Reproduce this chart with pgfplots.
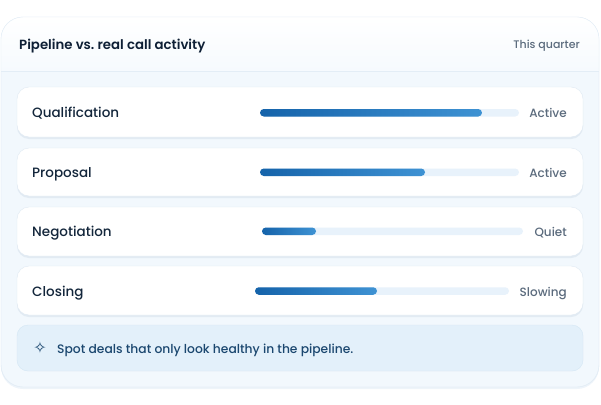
\documentclass[border=0pt]{standalone}
\usepackage{pgfplots}
\pgfplotsset{compat=1.18}
\usepackage{fontspec}
\setmainfont{Poppins}
\newfontfamily\pmed{Poppins Medium}
\newfontfamily\psemi{Poppins SemiBold}
\newfontfamily\dejavu{DejaVu Sans}
\definecolor{cardbg}{HTML}{F2F8FD}
\definecolor{cardborder}{HTML}{E3EDF6}
\definecolor{rowborder}{HTML}{DFE9F3}
\definecolor{rowshadow}{HTML}{E2EBF3}
\definecolor{titlec}{HTML}{0E1F35}
\definecolor{grayc}{HTML}{5B6B7D}
\definecolor{labelc}{HTML}{13263B}
\definecolor{trackc}{HTML}{E8F2FB}
\definecolor{barL}{HTML}{1563AA}
\definecolor{barR}{HTML}{3E92D3}
\definecolor{footbg}{HTML}{E3F0FA}
\definecolor{footborder}{HTML}{D4E6F4}
\definecolor{foottext}{HTML}{1B476F}
\tikzset{rowcard/.style={draw=rowborder, fill=white, rounded corners=12pt},
  rowshad/.style={fill=rowshadow, rounded corners=12pt},
  lab/.style={anchor=base west, text=labelc, font=\pmed\fontsize{13.5}{15}\selectfont, inner sep=0pt},
  stat/.style={anchor=base east, text=grayc, font=\pmed\fontsize{12}{14}\selectfont, inner sep=0pt}}
\begin{document}
\begin{tikzpicture}
\begin{axis}[width=601pt,height=404pt,scale only axis,
  xmin=0,xmax=601,ymin=0,ymax=404,y dir=reverse,
  hide axis,clip=false]
\path (0,0) rectangle (601,404);
% outer card
\fill[cardborder!60, rounded corners=22pt] (1,18) rectangle (599,389);
\draw[fill=cardbg, draw=cardborder, rounded corners=22pt] (1,17) rectangle (599,387);
\begin{scope}
\clip[rounded corners=22pt] (1,17) rectangle (599,387);
\shade[top color=white, bottom color=cardbg!70!white] (1,17) rectangle (599,71);
\end{scope}
\draw[cardborder, line width=1pt] (1,71) -- (599,71);
\draw[cardborder, rounded corners=22pt] (1,17) rectangle (599,387);
\node[anchor=base west, text=titlec, font=\psemi\fontsize{13.3}{16}\selectfont, inner sep=0pt] at (19,49.3) {Pipeline vs.\ real call activity};
\node[anchor=base east, text=grayc, font=\pmed\fontsize{11}{14}\selectfont, inner sep=0pt] at (580,48.5) {This quarter};
% row cards
\fill[rowshad] (17,89) rectangle (583,139);
\draw[rowcard] (17,87) rectangle (583,137);
\fill[rowshad] (17,150) rectangle (583,198);
\draw[rowcard] (17,148) rectangle (583,196);
\fill[rowshad] (17,209) rectangle (583,258);
\draw[rowcard] (17,207) rectangle (583,256);
\fill[rowshad] (17,268) rectangle (583,317);
\draw[rowcard] (17,266) rectangle (583,315);
\node[lab] at (32,117.3) {Qualification};
\node[lab] at (32,177.3) {Proposal};
\node[lab] at (32,236.5) {Negotiation};
\node[lab] at (32,296) {Closing};
\node[stat] at (567,117.3) {Active};
\node[stat] at (567,177) {Active};
\node[stat] at (567,236.3) {Quiet};
\node[stat] at (567,296) {Slowing};
% tracks
\addplot[draw=none, fill=trackc, rounded corners=3.75pt] coordinates {(260,109) (519,109) (519,116.5) (260,116.5)} -- cycle;
\addplot[draw=none, fill=trackc, rounded corners=3.75pt] coordinates {(260,168.5) (519,168.5) (519,176) (260,176)} -- cycle;
\addplot[draw=none, fill=trackc, rounded corners=3.75pt] coordinates {(262,227.5) (523,227.5) (523,235) (262,235)} -- cycle;
\addplot[draw=none, fill=trackc, rounded corners=3.75pt] coordinates {(255,287.25) (509,287.25) (509,294.75) (255,294.75)} -- cycle;
% bars
\addplot[draw=none, left color=barL, right color=barR, rounded corners=3.75pt] coordinates {(260,109) (482,109) (482,116.5) (260,116.5)} -- cycle;
\addplot[draw=none, left color=barL, right color=barR, rounded corners=3.75pt] coordinates {(260,168.5) (425,168.5) (425,176) (260,176)} -- cycle;
\addplot[draw=none, left color=barL, right color=barR, rounded corners=3.75pt] coordinates {(262,227.5) (316,227.5) (316,235) (262,235)} -- cycle;
\addplot[draw=none, left color=barL, right color=barR, rounded corners=3.75pt] coordinates {(255,287.25) (377,287.25) (377,294.75) (255,294.75)} -- cycle;
% footer
\draw[fill=footbg, draw=footborder, rounded corners=11pt] (17,325) rectangle (583,371);
\node[text=foottext, font=\dejavu\bfseries\fontsize{16}{18}\selectfont, inner sep=0pt] at (40,348) {✧};
\node[anchor=base west, text=foottext, font=\pmed\fontsize{12.3}{15}\selectfont, inner sep=0pt] at (57,353.3) {Spot deals that only look healthy in the pipeline.};
\end{axis}
\end{tikzpicture}
\end{document}
